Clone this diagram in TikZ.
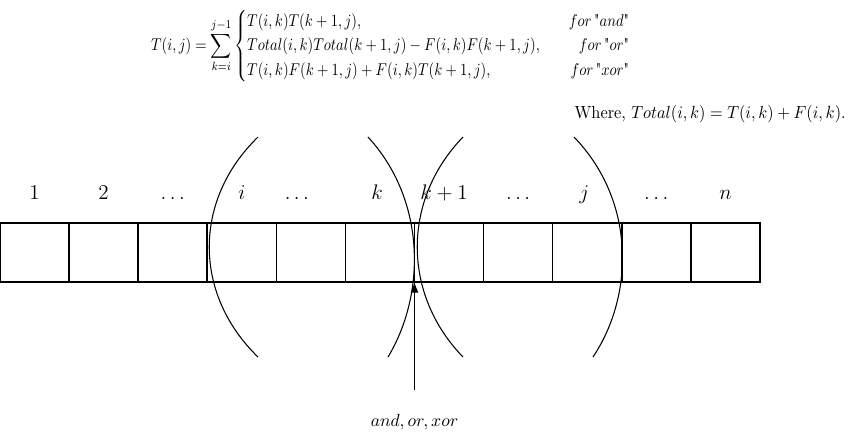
\documentclass[tikz,border=0pt]{standalone}
\usepackage{amsmath}
\usetikzlibrary{arrows.meta,positioning}

\begin{document}
\begin{tikzpicture}[x=0.02cm,y=-0.02cm,>=Latex,node distance=0pt,every node/.style={font=\normalsize},
  cell/.style={draw,line width=0.9pt,minimum width=1.382cm,minimum height=1.18cm,inner sep=0pt,outer sep=0pt},
  idx/.style={font=\large,anchor=base},
  split/.style={semithick}]
\useasboundingbox (0,0) rectangle (849,437);
% recurrence and note
\node[inner sep=0pt] (rec) at (391,46) {\scalebox{0.83}[0.97]{$\renewcommand{\arraystretch}{1.2}T(i,j)=\displaystyle\sum_{k=i}^{j-1}\left\{\begin{array}{@{}l@{\qquad}r@{}}
 T(i,k)T(k+1,j), & for\,\text{\textquotedbl}and\text{\textquotedbl}\\
 Total(i,k)Total(k+1,j)-F(i,k)F(k+1,j), & for\,\text{\textquotedbl}or\text{\textquotedbl}\\
 T(i,k)F(k+1,j)+F(i,k)T(k+1,j), & for\,\text{\textquotedbl}xor\text{\textquotedbl}
\end{array}\right.$}};
\node[anchor=east,inner sep=0pt] (where) at (846,114) {\scalebox{0.93}[1]{Where, $Total(i,k)=T(i,k)+F(i,k)$.}};
% array
\node[cell] (c1) at (34.55,252.5) {};
\foreach \i [remember=\i as \j (initially 1)] in {2,...,11}
  \node[cell,right=of c\j] (c\i) {};
\draw[line width=1.5pt] (c1.north west) rectangle (c11.south east);
\coordinate (top) at (0,199);
\foreach \t/\dx [count=\i] in {1/0,2/0,\ldots/0,i/0,\ldots/-14,k/-3,k+1/-5,\ldots/0,j/-3,\ldots/0,n/0}
  \node[idx,shift={(\dx,0)}] (l\i) at (c\i |- top) {$\t$};
% split curves
\draw[split] (258,137) .. controls (193,200) and (193,294) .. (258,357);
\draw[split] (368,137) .. controls (426,200) and (426,294) .. (388,357);
\draw[split] (463,137) .. controls (402,200) and (402,294) .. (463,357);
\draw[split] (574,137) .. controls (635,200) and (635,294) .. (593,357);
% operator
\node[below=2.52cm of c6.south east] (op) {$and,or,xor$};
\draw[->,semithick,arrows={-Latex[length=6pt,width=4.5pt]}] ([yshift=0.36cm]op.north) -- (c6.south east);
\end{tikzpicture}
\end{document}
